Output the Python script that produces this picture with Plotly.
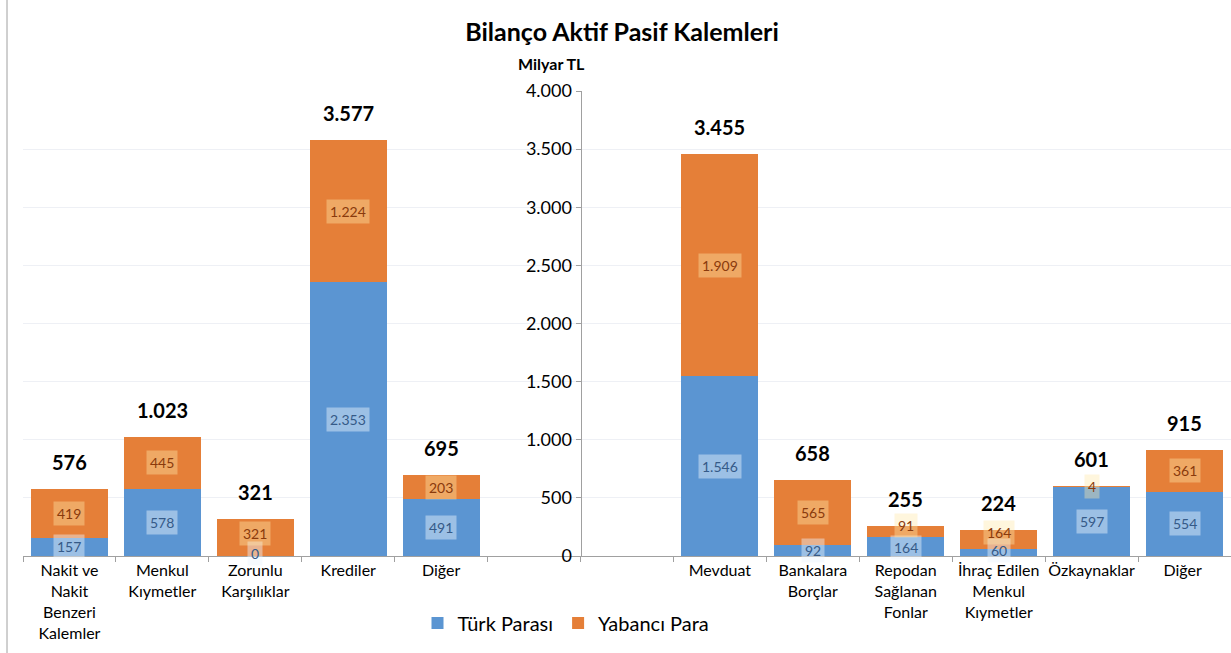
import plotly.graph_objects as go

# ---- data ----
asset_cats = ["Nakit ve<br>Nakit<br>Benzeri<br>Kalemler", "Menkul<br>Kıymetler", "Zorunlu<br>Karşılıklar", "Krediler", "Diğer"]
asset_tp = [157, 578, 0, 2353, 491]
asset_yp = [419, 445, 321, 1224, 203]
asset_tot = [576, 1023, 321, 3577, 695]

liab_cats = ["Mevduat", "Bankalara<br>Borçlar", "Repodan<br>Sağlanan<br>Fonlar", "İhraç Edilen<br>Menkul<br>Kıymetler", "Özkaynaklar", "Diğer "]
liab_tp = [1546, 92, 164, 60, 597, 554]
liab_yp = [1909, 565, 91, 164, 4, 361]
liab_tot = [3455, 658, 255, 224, 601, 915]

gap_cats = [" ", "  "]
series_names = ["Türk Parası", "Yabancı Para"]
y_ticks = [0, 500, 1000, 1500, 2000, 2500, 3000, 3500, 4000]

# ---- build ----
cats = asset_cats + gap_cats + liab_cats
tp = asset_tp + [None, None] + liab_tp
yp = asset_yp + [None, None] + liab_yp
tot = asset_tot + [None, None] + liab_tot

BLUE = "#5b95d2"
ORANGE = "#e57f38"
FONT = "Lato, 'Open Sans', sans-serif"

def fmt(v):
    return f"{v:,}".replace(",", ".")

fig = go.Figure()
fig.add_trace(go.Bar(x=cats, y=tp, name=series_names[0], marker=dict(color=BLUE, line=dict(width=0))))
fig.add_trace(go.Bar(x=cats, y=yp, name=series_names[1], marker=dict(color=ORANGE, line=dict(width=0))))

# small label nudges (px) to keep boxes apart, as in the reference
tp_shift = {"Zorunlu<br>Karşılıklar": 3, "Repodan<br>Sağlanan<br>Fonlar": -1, "İhraç Edilen<br>Menkul<br>Kıymetler": 2}
yp_shift = {"Zorunlu<br>Karşılıklar": 4, "Repodan<br>Sağlanan<br>Fonlar": 6, "İhraç Edilen<br>Menkul<br>Kıymetler": 7}

annotations = []
for c, a, b, t in zip(cats, tp, yp, tot):
    if t is None:
        continue
    annotations.append(dict(x=c, y=a / 2, text=fmt(a), showarrow=False, yshift=tp_shift.get(c, 0),
                            font=dict(family=FONT, size=14, color="#355a88"),
                            bgcolor="rgba(235,243,252,0.45)", borderpad=3))
    annotations.append(dict(x=c, y=a + b / 2, text=fmt(b), showarrow=False, yshift=yp_shift.get(c, 0),
                            font=dict(family=FONT, size=14, color="#8a3a0c"),
                            bgcolor="rgba(255,232,170,0.4)", borderpad=3))
    annotations.append(dict(x=c, y=a + b, text="<b>" + fmt(t) + "</b>", showarrow=False,
                            yanchor="bottom", yshift=13,
                            font=dict(family=FONT, size=20, color="#000000")))

annotations.append(dict(xref="paper", yref="paper", x=(551 - 23) / 1208, y=(556 - 64) / 465,
                        text="<b>Milyar TL</b>", showarrow=False, yanchor="middle",
                        font=dict(family=FONT, size=16, color="#000000")))

shapes = [dict(type="line", xref="paper", yref="paper",
               x0=(7 - 23) / 1208, x1=(7 - 23) / 1208,
               y0=(556 - 653) / 465, y1=556 / 465,
               line=dict(color="#a0a0a0", width=1))]

fig.update_layout(
    barmode="stack",
    bargap=0.17,
    width=1231, height=653,
    margin=dict(l=23, r=0, t=91, b=97, autoexpand=False),
    paper_bgcolor="white", plot_bgcolor="white",
    separators=",.",
    font=dict(family=FONT, color="#000000"),
    title=dict(text="<b>Bilanço Aktif Pasif Kalemleri</b>", x=622 / 1231, xanchor="center",
               y=1 - 32 / 653, yanchor="middle", font=dict(family=FONT, size=25, color="#000000")),
    xaxis=dict(type="category", categoryorder="array", categoryarray=cats,
               tickson="boundaries", ticks="outside", ticklen=5, tickcolor="#a0a0a0",
               showline=True, linecolor="#a0a0a0", linewidth=1, tickangle=0,
               showgrid=False, tickfont=dict(family=FONT, size=16, color="#000000"),
               range=[-0.5, len(cats) - 0.5], automargin=False),
    yaxis=dict(range=[0, 4000], tickvals=y_ticks, tickformat=",d",
               anchor="free", position=6 / 13,
               showline=True, linecolor="#a0a0a0", linewidth=1,
               ticks="outside", ticklen=5, tickcolor="#a0a0a0",
               showgrid=True, gridcolor="#eef0f5", gridwidth=1, zeroline=False,
               tickfont=dict(family=FONT, size=18, color="#000000"), automargin=False),
    legend=dict(orientation="h", x=(566 - 23) / 1208, xanchor="center",
                y=(556 - 623) / 465, yanchor="middle",
                font=dict(family=FONT, size=20, color="#000000"), traceorder="normal"),
    annotations=annotations,
    shapes=shapes,
)

fig.write_html("out.html", config={"displayModeBar": False},
               post_script="document.body.style.margin='0';document.body.style.overflow='hidden';")
